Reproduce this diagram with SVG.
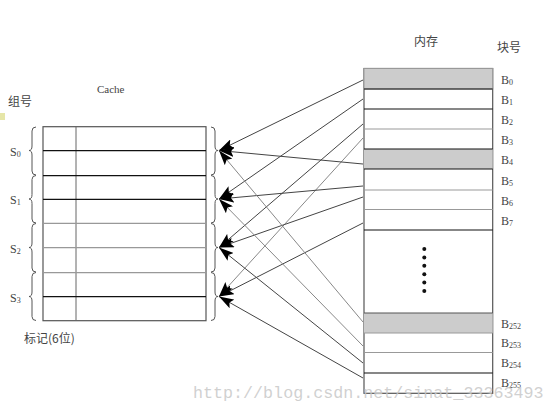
<svg xmlns="http://www.w3.org/2000/svg" width="556" height="413" viewBox="0 0 556 413">
<style>
.t{font-family:"Liberation Serif","Noto Sans CJK SC",serif;fill:#444}
.cj{font-family:"Noto Sans CJK SC",sans-serif;fill:#444}
.blk{stroke:#111;stroke-width:1.2}
.gry{stroke:#999;stroke-width:1.2}
.brace{fill:none;stroke:#555;stroke-width:1}
.conn{stroke:#444;stroke-width:1;fill:none;marker-end:url(#ah)}
.conn2{stroke:#888;stroke-width:1;fill:none;marker-end:url(#ah)}
</style>
<defs>
<marker id="ah" markerUnits="userSpaceOnUse" markerWidth="16" markerHeight="10" refX="15" refY="5" orient="auto">
<path d="M0,0 L15,5 L0,10 L3,5 Z" fill="#000"/>
</marker>
</defs>
<rect width="556" height="413" fill="#fff"/>
<rect x="0" y="113" width="5" height="7" fill="#e6e6a8"/>

<g id="labels">
<text class="t" x="97" y="93" font-size="11">Cache</text>
<text class="cj" x="8" y="106" font-size="12">组号</text>
<text class="cj" x="24" y="343" font-size="12">标记(6位)</text>
<text class="cj" x="414" y="46" font-size="12">内存</text>
<text class="cj" x="497" y="52" font-size="12">块号</text>
</g>

<g id="cache">
<rect x="43" y="126.7" width="163" height="194" fill="#fff" stroke="#555" stroke-width="1.2"/>
<line x1="76" y1="126.7" x2="76" y2="320.7" stroke="#666" stroke-width="1"/>
<line class="blk" x1="43" y1="150.7" x2="206" y2="150.7"/>
<line class="blk" x1="43" y1="175.7" x2="206" y2="175.7"/>
<line class="blk" x1="43" y1="199.3" x2="206" y2="199.3"/>
<line class="gry" x1="43" y1="223.3" x2="206" y2="223.3"/>
<line class="gry" x1="43" y1="247.7" x2="206" y2="247.7"/>
<line class="gry" x1="43" y1="272.7" x2="206" y2="272.7"/>
<line class="blk" x1="43" y1="296.7" x2="206" y2="296.7"/>
</g>

<g id="sets">
<path class="brace" d="M36,127 Q32,127 32,131 L32,146 Q32,150.5 29,150.5 Q32,150.5 32,155 L32,171 Q32,175 36,175"/>
<path class="brace" d="M36,175.5 Q32,175.5 32,179.5 L32,194.5 Q32,199 29,199 Q32,199 32,203.5 L32,219 Q32,223 36,223"/>
<path class="brace" d="M36,223.5 Q32,223.5 32,227.5 L32,243 Q32,247.5 29,247.5 Q32,247.5 32,252 L32,268 Q32,272 36,272"/>
<path class="brace" d="M36,272.5 Q32,272.5 32,276.5 L32,292 Q32,296.5 29,296.5 Q32,296.5 32,301 L32,316.5 Q32,320.5 36,320.5"/>
<path class="brace" d="M211,127 Q215,127 215,131 L215,146 Q215,150.5 218,150.5 Q215,150.5 215,155 L215,171 Q215,175 211,175"/>
<path class="brace" d="M211,175.5 Q215,175.5 215,179.5 L215,194.5 Q215,199 218,199 Q215,199 215,203.5 L215,219 Q215,223 211,223"/>
<path class="brace" d="M211,223.5 Q215,223.5 215,227.5 L215,243 Q215,247.5 218,247.5 Q215,247.5 215,252 L215,268 Q215,272 211,272"/>
<path class="brace" d="M211,272.5 Q215,272.5 215,276.5 L215,292 Q215,296.5 218,296.5 Q215,296.5 215,301 L215,316.5 Q215,320.5 211,320.5"/>
<text class="t" x="10" y="156" font-size="12">S<tspan font-size="8" dy="1">0</tspan></text>
<text class="t" x="10" y="204" font-size="12">S<tspan font-size="8" dy="1">1</tspan></text>
<text class="t" x="10" y="253" font-size="12">S<tspan font-size="8" dy="1">2</tspan></text>
<text class="t" x="10" y="302" font-size="12">S<tspan font-size="8" dy="1">3</tspan></text>
</g>

<g id="memory">
<rect x="364" y="68.5" width="128.7" height="324.8" fill="#fff" stroke="#555" stroke-width="1.2"/>
<rect x="364" y="68.5" width="128.7" height="20.5" fill="#cccccc" stroke="#999" stroke-width="1"/>
<rect x="364" y="149" width="128.7" height="20" fill="#cccccc"/>
<rect x="364" y="313" width="128.7" height="20" fill="#cccccc"/>
<line class="blk" x1="364" y1="89" x2="492.7" y2="89"/>
<line class="blk" x1="364" y1="109" x2="492.7" y2="109"/>
<line class="gry" x1="364" y1="129" x2="492.7" y2="129"/>
<line class="blk" x1="364" y1="149" x2="492.7" y2="149"/>
<line class="blk" x1="364" y1="169" x2="492.7" y2="169"/>
<line class="gry" x1="364" y1="190" x2="492.7" y2="190"/>
<line class="gry" x1="364" y1="209.5" x2="492.7" y2="209.5"/>
<line class="blk" x1="364" y1="230" x2="492.7" y2="230"/>
<line x1="364" y1="313" x2="492.7" y2="313" stroke="#555" stroke-width="1.2"/>
<line class="gry" x1="364" y1="333" x2="492.7" y2="333"/>
<line class="gry" x1="364" y1="352.5" x2="492.7" y2="352.5"/>
<line class="blk" x1="364" y1="373" x2="492.7" y2="373"/>
<g fill="#111">
<circle cx="424.3" cy="249" r="2"/>
<circle cx="424.3" cy="257.4" r="2"/>
<circle cx="424.3" cy="265.8" r="2"/>
<circle cx="424.3" cy="274.2" r="2"/>
<circle cx="424.3" cy="282.6" r="2"/>
<circle cx="424.3" cy="291" r="2"/>
</g>
<text class="t" x="501" y="84" font-size="12">B<tspan font-size="8" dy="1">0</tspan></text>
<text class="t" x="501" y="104" font-size="12">B<tspan font-size="8" dy="1">1</tspan></text>
<text class="t" x="501" y="124" font-size="12">B<tspan font-size="8" dy="1">2</tspan></text>
<text class="t" x="501" y="144" font-size="12">B<tspan font-size="8" dy="1">3</tspan></text>
<text class="t" x="501" y="164" font-size="12">B<tspan font-size="8" dy="1">4</tspan></text>
<text class="t" x="501" y="185" font-size="12">B<tspan font-size="8" dy="1">5</tspan></text>
<text class="t" x="501" y="205" font-size="12">B<tspan font-size="8" dy="1">6</tspan></text>
<text class="t" x="501" y="225" font-size="12">B<tspan font-size="8" dy="1">7</tspan></text>
<text class="t" x="501" y="328" font-size="12">B<tspan font-size="8" dy="1">252</tspan></text>
<text class="t" x="501" y="347" font-size="12">B<tspan font-size="8" dy="1">253</tspan></text>
<text class="t" x="501" y="367" font-size="12">B<tspan font-size="8" dy="1">254</tspan></text>
<text class="t" x="501" y="387" font-size="12">B<tspan font-size="8" dy="1">255</tspan></text>
</g>

<g id="connectors">
<line class="conn" x1="363" y1="80" x2="219" y2="150.5"/>
<line class="conn" x1="363" y1="99" x2="219" y2="199"/>
<line class="conn" x1="363" y1="124" x2="219" y2="247.5"/>
<line class="conn2" x1="363" y1="138" x2="219" y2="296.5"/>
<line class="conn" x1="363" y1="164" x2="219" y2="150.5"/>
<line class="conn" x1="363" y1="186" x2="219" y2="199"/>
<line class="conn" x1="363" y1="197" x2="219" y2="247.5"/>
<line class="conn" x1="363" y1="223" x2="219" y2="296.5"/>
<line class="conn2" x1="363" y1="322" x2="219" y2="150.5"/>
<line class="conn2" x1="363" y1="346" x2="219" y2="199"/>
<line class="conn" x1="363" y1="363" x2="219" y2="247.5"/>
<line class="conn" x1="363" y1="378" x2="219" y2="296.5"/>
</g>

<text x="193" y="398" font-family="Liberation Mono, monospace" font-size="16.7" fill="#c8c8c8" fill-opacity="0.85">http://blog.csdn.net/sinat_33363493</text>
</svg>
